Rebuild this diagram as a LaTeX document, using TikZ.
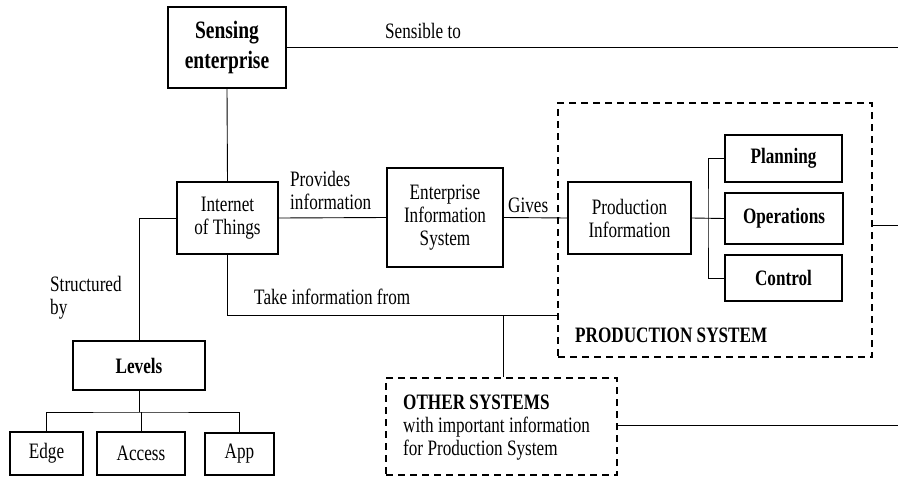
\documentclass[tikz,border=0pt]{standalone}
\usepackage{fontspec}
\setmainfont{Liberation Serif}[FakeStretch=0.78]
\begin{document}
\begin{tikzpicture}[x=1pt,y=-1pt,
  every node/.style={font=\fontsize{22}{23}\selectfont},
  box/.style={draw, line width=1.8pt, inner sep=0pt, align=center},
  dbox/.style={draw, line width=1.8pt, dash pattern=on 7pt off 5pt, inner sep=0pt},
  conn/.style={line width=0.9pt},
  lbl/.style={inner sep=0pt, align=left}]
\useasboundingbox (0,0) rectangle (898,477);
% boxes
\node[box, minimum width=118pt, minimum height=81pt, font=\fontsize{25}{30}\selectfont\bfseries] (se) at (227,47.5) {Sensing\\enterprise};
\node[box, minimum width=101pt, minimum height=72pt] (iot) at (227.5,218) {Internet\\of Things};
\node[box, minimum width=116pt, minimum height=99pt] (eis) at (445,217.5) {Enterprise\\Information\\System};
\node[dbox, minimum width=314pt, minimum height=254pt] (ps) at (715,230) {};
\node[box, minimum width=123pt, minimum height=72pt] (pi) at (629.5,218) {Production\\Information};
\node[box, minimum width=117pt, minimum height=47pt, font=\fontsize{22}{23}\selectfont\bfseries] (plan) at (783.5,158.5) {Planning};
\node[box, minimum width=118pt, minimum height=51pt, font=\fontsize{22}{23}\selectfont\bfseries] (ops) at (784,218.5) {Operations};
\node[box, minimum width=117pt, minimum height=46pt, font=\fontsize{22}{23}\selectfont\bfseries] (ctrl) at (783.5,278) {Control};
\node[box, minimum width=132pt, minimum height=49pt, font=\fontsize{22}{23}\selectfont\bfseries] (lev) at (139,365.5) {Levels};
\node[box, minimum width=73pt, minimum height=43pt] (edge) at (46.5,453.5) {Edge};
\node[box, minimum width=88pt, minimum height=43pt] (access) at (141,453.5) {Access};
\node[box, minimum width=69pt, minimum height=42pt] (app) at (239.5,454) {App};
\node[dbox, minimum width=231pt, minimum height=97pt] (os) at (501.5,426.5) {};
\node[lbl, anchor=west] (ostext) at (403,428) {\textbf{OTHER SYSTEMS}\\with important information\\for Production System};
% labels
\node[lbl] (l1) at (423,31) {Sensible to};
\node[lbl, anchor=west] (l2) at (290,190) {Provides\\information};
\node[lbl, anchor=west] (l3) at (508,205) {Gives};
\node[lbl, anchor=west] (l4) at (254,297) {Take information from};
\node[lbl, anchor=west] (l5) at (50,297.5) {Structured\\by};
\node[lbl, anchor=west, font=\fontsize{22}{23}\selectfont\bfseries] (l6) at (575,335) {PRODUCTION SYSTEM};
% coordinates
\coordinate (seR) at (898,47);
\coordinate (psR) at (898,225);
\coordinate (osR) at (898,425);
\coordinate (tk) at (503,315);
\coordinate (br) at (708,218);
\coordinate (lb) at (139,412);
% connectors
\draw[conn] (se.east) -- (se.east -| seR);
\draw[conn] (se.south) -- (iot.north);
\draw[conn] (iot.west) -| (lev.north);
\draw[conn] (iot.east) -- (eis.west);
\draw[conn] (eis.east) -- (pi.west);
\draw[conn] (pi.east) -- (ops.west);
\draw[conn] (plan.west) -| (br) |- (ctrl.west);
\draw[conn] (ps.east |- psR) -- (psR);
\draw[conn] (iot.south) |- (ps.west |- tk);
\draw[conn] (tk) -- (tk |- os.north);
\draw[conn] (os.east |- osR) -- (osR);
\draw[conn] (lev.south) -- (lb);
\draw[conn] (edge.north) |- (lb) -| (app.north);
\draw[conn] (access.north) -- (access.north |- lb);
\end{tikzpicture}
\end{document}
